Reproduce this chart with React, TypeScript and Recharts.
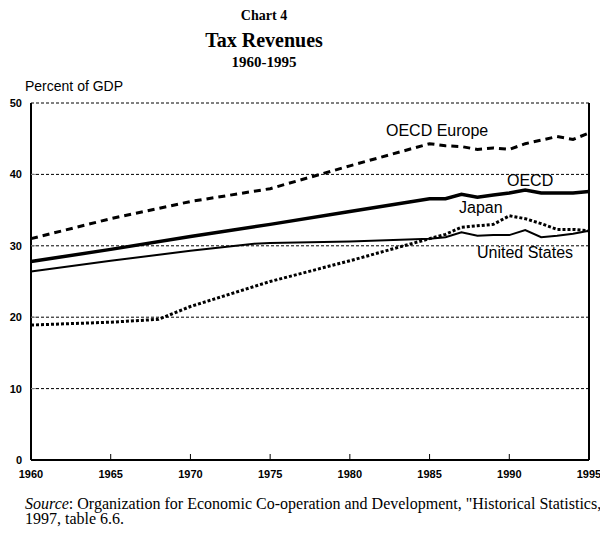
import { LineChart, Line, XAxis, YAxis, CartesianGrid, ReferenceLine } from 'recharts'

const years = [1960, 1965, 1968, 1970, 1974, 1975, 1980, 1985, 1986, 1987, 1988, 1989, 1990, 1991, 1992, 1993, 1994, 1995]
const oecdEurope = [31.0, 33.8, null, 36.2, null, 38.0, 41.2, 44.3, 44.0, 43.9, 43.5, 43.7, 43.5, 44.3, 44.8, 45.3, 44.9, 45.8]
const oecd = [27.8, 29.5, null, 31.3, null, 33.0, 34.8, 36.6, 36.6, 37.2, 36.8, 37.1, 37.4, 37.8, 37.4, 37.4, 37.4, 37.6]
const japan = [18.9, 19.3, 19.7, 21.5, null, 25.0, 27.9, 31.0, 31.6, 32.6, 32.8, 33.0, 34.2, 33.8, 33.1, 32.3, 32.3, 32.1]
const unitedStates = [26.4, 27.9, null, 29.3, 30.3, 30.4, 30.6, 31.0, 31.2, 31.9, 31.4, 31.5, 31.5, 32.2, 31.2, 31.4, 31.7, 32.1]

const xTicks = [1960, 1965, 1970, 1975, 1980, 1985, 1990, 1995]
const yTicks = [0, 10, 20, 30, 40, 50]

const data = years.map((year, i) => ({
  year,
  europe: oecdEurope[i],
  oecd: oecd[i],
  japan: japan[i],
  us: unitedStates[i],
}))

const sans = '"Liberation Sans", Arial, sans-serif'
const serif = '"Liberation Serif", "Times New Roman", serif'

function XTick({ x, y, payload }: any) {
  return (
    <g>
      {payload.value !== 1960 && payload.value !== 1995 && (
        <line x1={x} y1={y} x2={x} y2={y - 6} stroke="#000" strokeWidth={1} />
      )}
      <text x={x} y={y + 18} textAnchor="middle" fontFamily={sans} fontSize={11} fontWeight="bold" fill="#000">
        {payload.value}
      </text>
    </g>
  )
}

function YTick({ x, y, payload }: any) {
  return (
    <g>
      {payload.value !== 0 && payload.value !== 50 && (
        <line x1={x} y1={y} x2={x + 5} y2={y} stroke="#888" strokeWidth={1} />
      )}
      <text x={x - 9} y={y + 4} textAnchor="end" fontFamily={sans} fontSize={11} fontWeight="bold" fill="#000">
        {payload.value}
      </text>
    </g>
  )
}

const label = (text: string, left: number, top: number) => (
  <div style={{ position: 'absolute', left, top, fontFamily: sans, fontSize: 16, lineHeight: '16px', whiteSpace: 'nowrap' }}>
    {text}
  </div>
)

export default function App() {
  return (
    <div style={{ position: 'absolute', left: 0, top: 0, width: 600, height: 535, overflow: 'hidden', background: '#fff' }}>
      <div style={{ position: 'absolute', left: 164, width: 200, top: 9, textAlign: 'center', fontFamily: serif, fontWeight: 'bold', fontSize: 14, lineHeight: '14px' }}>
        Chart 4
      </div>
      <div style={{ position: 'absolute', left: 164, width: 200, top: 30, textAlign: 'center', fontFamily: serif, fontWeight: 'bold', fontSize: 20, lineHeight: '20px' }}>
        Tax Revenues
      </div>
      <div style={{ position: 'absolute', left: 164, width: 200, top: 55, textAlign: 'center', fontFamily: serif, fontWeight: 'bold', fontSize: 15, lineHeight: '15px' }}>
        1960-1995
      </div>
      <div style={{ position: 'absolute', left: 25, top: 79, fontFamily: sans, fontSize: 14, lineHeight: '14px' }}>
        Percent of GDP
      </div>

      <div style={{ position: 'absolute', left: 0, top: 0 }}>
        <LineChart width={600} height={535} data={data} margin={{ top: 103, right: 11, left: 0, bottom: 45 }}>
          <CartesianGrid vertical={false} stroke="#000" strokeDasharray="3 2" strokeWidth={1} />
          <XAxis
            dataKey="year"
            type="number"
            domain={[1960, 1995]}
            ticks={xTicks}
            height={30}
            tickSize={0}
            tickMargin={0}
            tickLine={false}
            axisLine={{ stroke: '#000', strokeWidth: 2 }}
            tick={<XTick />}
            interval={0}
          />
          <YAxis
            domain={[0, 50]}
            ticks={yTicks}
            width={31}
            tickSize={0}
            tickMargin={0}
            tickLine={false}
            axisLine={{ stroke: '#000', strokeWidth: 2 }}
            tick={<YTick />}
            interval={0}
          />
          <ReferenceLine x={1995} stroke="#000" strokeWidth={2} />
          <Line type="linear" dataKey="japan" stroke="#000" strokeWidth={3} strokeDasharray="3 2" dot={false} connectNulls isAnimationActive={false} />
          <Line type="linear" dataKey="us" stroke="#000" strokeWidth={2} dot={false} connectNulls isAnimationActive={false} />
          <Line type="linear" dataKey="oecd" stroke="#000" strokeWidth={3.5} dot={false} connectNulls isAnimationActive={false} />
          <Line type="linear" dataKey="europe" stroke="#000" strokeWidth={3} strokeDasharray="7 5" dot={false} connectNulls isAnimationActive={false} />
        </LineChart>
      </div>

      {label('OECD Europe', 386, 123)}
      {label('OECD', 507, 173)}
      {label('Japan', 459, 200)}
      {label('United States', 477, 245)}

      <div style={{ position: 'absolute', left: 25, top: 497, fontFamily: serif, fontSize: 16, lineHeight: '14.5px', whiteSpace: 'nowrap' }}>
        <i>Source</i>: Organization for Economic Co-operation and Development, "Historical Statistics,"
        <br />
        1997, table 6.6.
      </div>
    </div>
  )
}
